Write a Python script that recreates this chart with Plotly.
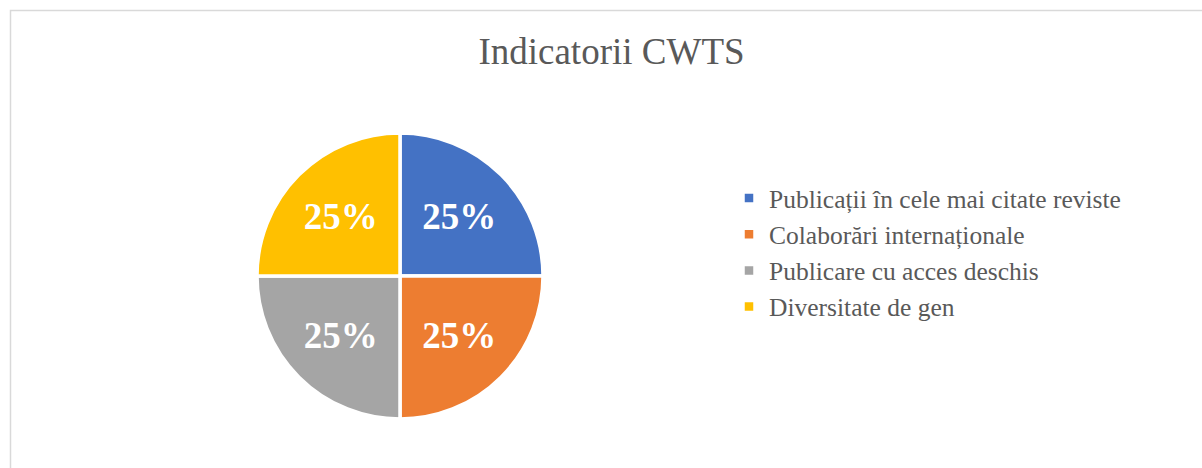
import plotly.graph_objects as go

# data
labels = [
    "Publicații în cele mai citate reviste",
    "Colaborări internaționale",
    "Publicare cu acces deschis",
    "Diversitate de gen",
]
values = [25, 25, 25, 25]
colors = ["#4472C4", "#ED7D31", "#A5A5A5", "#FFC000"]

W, H = 1202, 468
SERIF = "Liberation Serif, Times New Roman, serif"

fig = go.Figure(go.Pie(
    labels=labels,
    values=values,
    sort=False,
    direction="clockwise",
    rotation=0,
    marker=dict(colors=colors, line=dict(color="white", width=3.5)),
    textinfo="percent",
    texttemplate="<b>%{percent:.0%}</b>",
    textposition="inside",
    insidetextorientation="horizontal",
    textfont=dict(family=SERIF, size=37, color="white"),
    domain=dict(x=[257 / W, 543 / W], y=[49 / H, 335 / H]),
    hoverinfo="label+percent",
))

# light grey frame round the chart area (as in the Excel chart)
fig.add_shape(
    type="rect", xref="paper", yref="paper",
    x0=10.5 / W, y0=-0.02, x1=1.02, y1=1 - 10.5 / H,
    line=dict(color="#D9D9D9", width=1.5),
)

fig.update_layout(
    width=W, height=H,
    margin=dict(l=0, r=0, t=0, b=0),
    paper_bgcolor="white",
    plot_bgcolor="white",
    title=dict(
        text="Indicatorii CWTS",
        x=611.5 / W, xanchor="center",
        y=1 - 51 / H, yanchor="middle", yref="container",
        font=dict(family=SERIF, size=37, color="#595959"),
    ),
    legend=dict(
        x=729 / W, xanchor="left",
        y=1 - 175 / H, yanchor="top",
        font=dict(family=SERIF, size=25.5, color="#595959"),
        bgcolor="rgba(0,0,0,0)",
    ),
    showlegend=True,
)

# drop the browser's default body margin so the figure sits at (0, 0)
fig.write_html(
    "out.html",
    config={"displayModeBar": False},
    post_script="document.body.style.margin='0';",
)
